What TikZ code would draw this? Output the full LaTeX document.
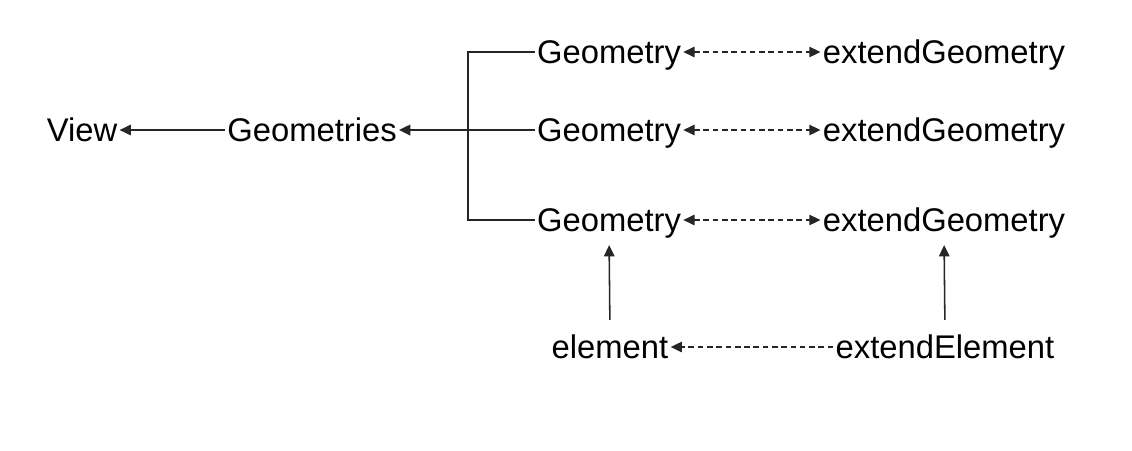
\documentclass[tikz,border=0pt]{standalone}
\usepackage{fontspec}
\setmainfont{Liberation Sans}
\usepackage{tikz}
\usetikzlibrary{arrows.meta, positioning, calc}

\begin{document}
\begin{tikzpicture}[
    x=0.025cm, y=0.025cm,
    lbl/.style={inner sep=1.5pt, text height=16.7pt, text depth=0pt, font=\fontsize{23.3}{28}\selectfont},
    arr/.style={-{Triangle[length=2.8mm, width=2.6mm]}, line width=1.1pt, draw=black!85},
    dasharr/.style={arr, dash pattern=on 4pt off 2.6pt},
    link/.style={line width=1.1pt, draw=black!85}
  ]
    \useasboundingbox (0,0) rectangle (1132,-450);

    \node[lbl] (view) at (82,-130) {View};
    \node[lbl] (geoms) at (312,-130) {Geometries};

    \node[lbl] (geo1) at (609,-52) {Geometry};
    \node[lbl] (geo2) at (609,-130) {Geometry};
    \node[lbl] (geo3) at (609,-220) {Geometry};

    \node[lbl] (ext1) at (944,-52) {extendGeometry};
    \node[lbl] (ext2) at (944,-130) {extendGeometry};
    \node[lbl] (ext3) at (944,-220) {extendGeometry};

    \node[lbl] (elem) at (610,-347) {element};
    \node[lbl] (extelem) at (945,-347) {extendElement};

    \coordinate (fork) at (468,-130);

    \draw[arr] (geoms) -- (view);
    \draw[arr, line width=1.5pt] (geo2) -- (geoms);
    \draw[link] (geo1.west) -| (fork) |- (geo3.west);

    \draw[dasharr, {Triangle[length=2.8mm, width=2.6mm]}-{Triangle[length=2.8mm, width=2.6mm]}] (geo1) -- (ext1);
    \draw[dasharr, {Triangle[length=2.8mm, width=2.6mm]}-{Triangle[length=2.8mm, width=2.6mm]}] (geo2) -- (ext2);
    \draw[dasharr, {Triangle[length=2.8mm, width=2.6mm]}-{Triangle[length=2.8mm, width=2.6mm]}] (geo3) -- (ext3);

    \draw[arr, shorten <=3.25mm, shorten >=2.75mm] (elem.north) -- (geo3.south);
    \draw[arr, shorten <=3.25mm, shorten >=2.75mm] (extelem.north) -- (ext3.south);
    \draw[dasharr] (extelem) -- (elem);
  \end{tikzpicture}
\end{document}
